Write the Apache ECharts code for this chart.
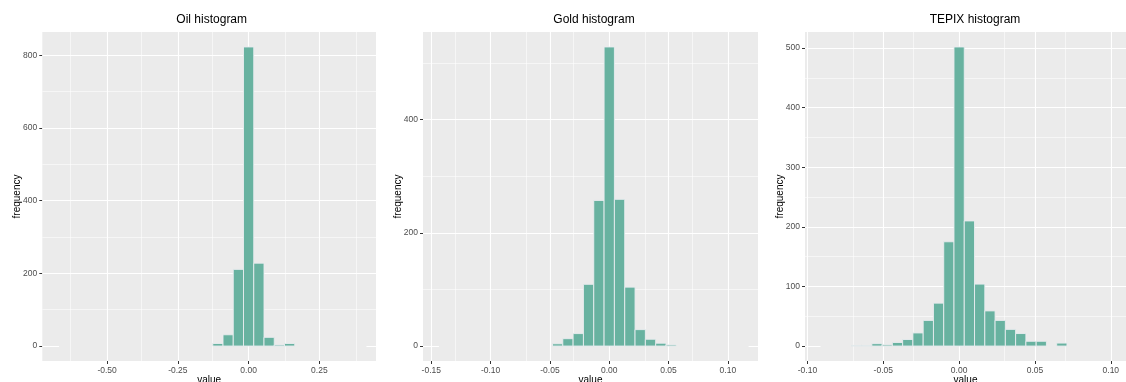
<!DOCTYPE html>
<html><head><meta charset="utf-8">
<script src="https://cdn.jsdelivr.net/npm/echarts@6/dist/echarts.min.js"></script>
<style>html,body{margin:0;padding:0;background:#fff}#c{width:1126px;height:382px}</style>
</head><body><div id="c"></div>
<script>
// ---------- Oil ----------
const oilBinWidth = 0.0362;
const oilFirstBin = -18;
const oilCounts = [0,0,0,0,0,0,0,0,0,0,0,0,0,0,0, 7,31,211,823,228,24,3,7, 0,0,0,0,0,0,0];
const oilXLim = [-0.729, 0.450];
const oilXTicks = [-0.50, -0.25, 0.00, 0.25];
const oilXMinor = [-0.625, -0.375, -0.125, 0.125, 0.375];
const oilYTicks = [0, 200, 400, 600, 800];
const oilYMinor = [100, 300, 500, 700];

// ---------- Gold ----------
const goldBinWidth = 0.0087;
const goldFirstBin = -16;
const goldCounts = [0,0,0,0,0,0,0,0,0,0,0, 4,13,22,109,257,528,259,104,29,12,5,2, 0,0,0,0,0,0,0];
const goldXLim = [-0.157, 0.1254];
const goldXTicks = [-0.15, -0.10, -0.05, 0.00, 0.05, 0.10];
const goldXMinor = [-0.125, -0.075, -0.025, 0.025, 0.075];
const goldYTicks = [0, 200, 400];
const goldYMinor = [100, 300, 500];

// ---------- TEPIX ----------
const tepixBinWidth = 0.00677;
const tepixFirstBin = -13;
const tepixCounts = [0,0,0, 1,1,4,2,6,11,22,43,72,175,502,210,104,59,43,28,21,8,8,0,5, 0,0,0,0,0,0];
const tepixXLim = [-0.1016, 0.110];
const tepixXTicks = [-0.10, -0.05, 0.00, 0.05, 0.10];
const tepixXMinor = [-0.075, -0.025, 0.025, 0.075];
const tepixYTicks = [0, 100, 200, 300, 400, 500];
const tepixYMinor = [50, 150, 250, 350, 450];

const titles = ['Oil histogram', 'Gold histogram', 'TEPIX histogram'];

const panels = [
  {w: oilBinWidth, first: oilFirstBin, counts: oilCounts, xlim: oilXLim, xt: oilXTicks, xm: oilXMinor, yt: oilYTicks, ym: oilYMinor, left: 42.3, width: 333.7, titleX: 211.7},
  {w: goldBinWidth, first: goldFirstBin, counts: goldCounts, xlim: goldXLim, xt: goldXTicks, xm: goldXMinor, yt: goldYTicks, ym: goldYMinor, left: 423, width: 335, titleX: 594},
  {w: tepixBinWidth, first: tepixFirstBin, counts: tepixCounts, xlim: tepixXLim, xt: tepixXTicks, xm: tepixXMinor, yt: tepixYTicks, ym: tepixYMinor, left: 805, width: 321, titleX: 975}
];

const FONT = 'Liberation Sans, Arial, sans-serif';
const majorStyle = {color: '#ffffff', width: 1.1, type: 'solid', opacity: 1};
const minorStyle = {color: '#ffffff', width: 0.55, type: 'solid', opacity: 1};

const grid = [], xAxis = [], yAxis = [], series = [], title = [];

panels.forEach((p, i) => {
  const ymax = Math.max(...p.counts);
  grid.push({left: p.left, top: 32, width: p.width, height: 329, show: true, backgroundColor: '#EBEBEB', borderWidth: 0,
    containLabel: false, outerBoundsMode: 'none'});
  title.push({text: titles[i], left: p.titleX, top: 14, textAlign: 'center', padding: 0,
    textStyle: {fontFamily: FONT, fontSize: 12, fontWeight: 'normal', color: '#000'}});
  xAxis.push({
    type: 'value', gridIndex: i, min: p.xlim[0], max: p.xlim[1],
    axisLine: {show: true, onZero: false, lineStyle: {color: 'rgba(0,0,0,0)', width: 0}}, splitLine: {show: false},
    axisTick: {show: true, customValues: p.xt, length: 3, inside: false, lineStyle: {color: '#333333', width: 1}},
    axisLabel: {customValues: p.xt, formatter: v => v.toFixed(2), margin: 5, color: '#4D4D4D', fontSize: 8.5, fontFamily: FONT, showMinLabel: true, showMaxLabel: true},
    name: 'value', nameLocation: 'middle', nameGap: 14, nameMoveOverlap: false,
    nameTextStyle: {fontFamily: FONT, fontSize: 10, color: '#000'}
  });
  yAxis.push({
    type: 'value', gridIndex: i, min: -0.05 * ymax, max: 1.05 * ymax,
    axisLine: {show: true, onZero: false, lineStyle: {color: 'rgba(0,0,0,0)', width: 0}}, splitLine: {show: false},
    axisTick: {show: true, customValues: p.yt, length: 3, inside: false, lineStyle: {color: '#333333', width: 1}},
    axisLabel: {customValues: p.yt, formatter: v => String(Math.round(v)), margin: 5, color: '#4D4D4D', fontSize: 8.5, fontFamily: FONT},
    name: 'frequency', nameLocation: 'middle', nameGap: 20, nameRotate: 90, nameMoveOverlap: false,
    nameTextStyle: {fontFamily: FONT, fontSize: 10, color: '#000'}
  });
  const binStart = (p.first - 0.5) * p.w;
  const binEnd = (p.first + p.counts.length - 0.5) * p.w;
  const ml = [];
  p.xm.forEach(v => ml.push({xAxis: v, lineStyle: minorStyle}));
  p.ym.forEach(v => ml.push({yAxis: v, lineStyle: minorStyle}));
  p.xt.forEach(v => ml.push({xAxis: v, lineStyle: majorStyle}));
  p.yt.filter(v => v !== 0).forEach(v => ml.push({yAxis: v, lineStyle: majorStyle}));
  ml.push([{coord: [p.xlim[0], 0], lineStyle: majorStyle}, {coord: [binStart, 0]}]);
  ml.push([{coord: [binEnd, 0], lineStyle: majorStyle}, {coord: [p.xlim[1], 0]}]);
  series.push({
    type: 'line', xAxisIndex: i, yAxisIndex: i, data: [[p.xlim[0], 0]], symbol: 'none',
    lineStyle: {opacity: 0}, silent: true, z: 1, animation: false,
    markLine: {silent: true, z: 1, symbol: ['none', 'none'], label: {show: false}, animation: false, emphasis: {disabled: true}, data: ml}
  });
  const w = p.w;
  series.push({
    type: 'custom', xAxisIndex: i, yAxisIndex: i, z: 3, animation: false, silent: true,
    data: p.counts.map((c, j) => [(p.first + j) * w, c]),
    renderItem: (params, api) => {
      const x = api.value(0), c = api.value(1);
      if (!(c > 0)) return null;
      const a = api.coord([x - w / 2, c]);
      const b = api.coord([x + w / 2, 0]);
      return {type: 'rect', shape: {x: a[0], y: a[1], width: b[0] - a[0], height: b[1] - a[1]},
        style: {fill: '#68b2a0', opacity: 1, stroke: '#e9ecef', lineWidth: 0.9}};
    }
  });
});

const chart = echarts.init(document.getElementById('c'), null, {renderer: 'canvas'});
chart.setOption({animation: false, backgroundColor: '#ffffff', title, grid, xAxis, yAxis, series});
</script>
</body></html>
